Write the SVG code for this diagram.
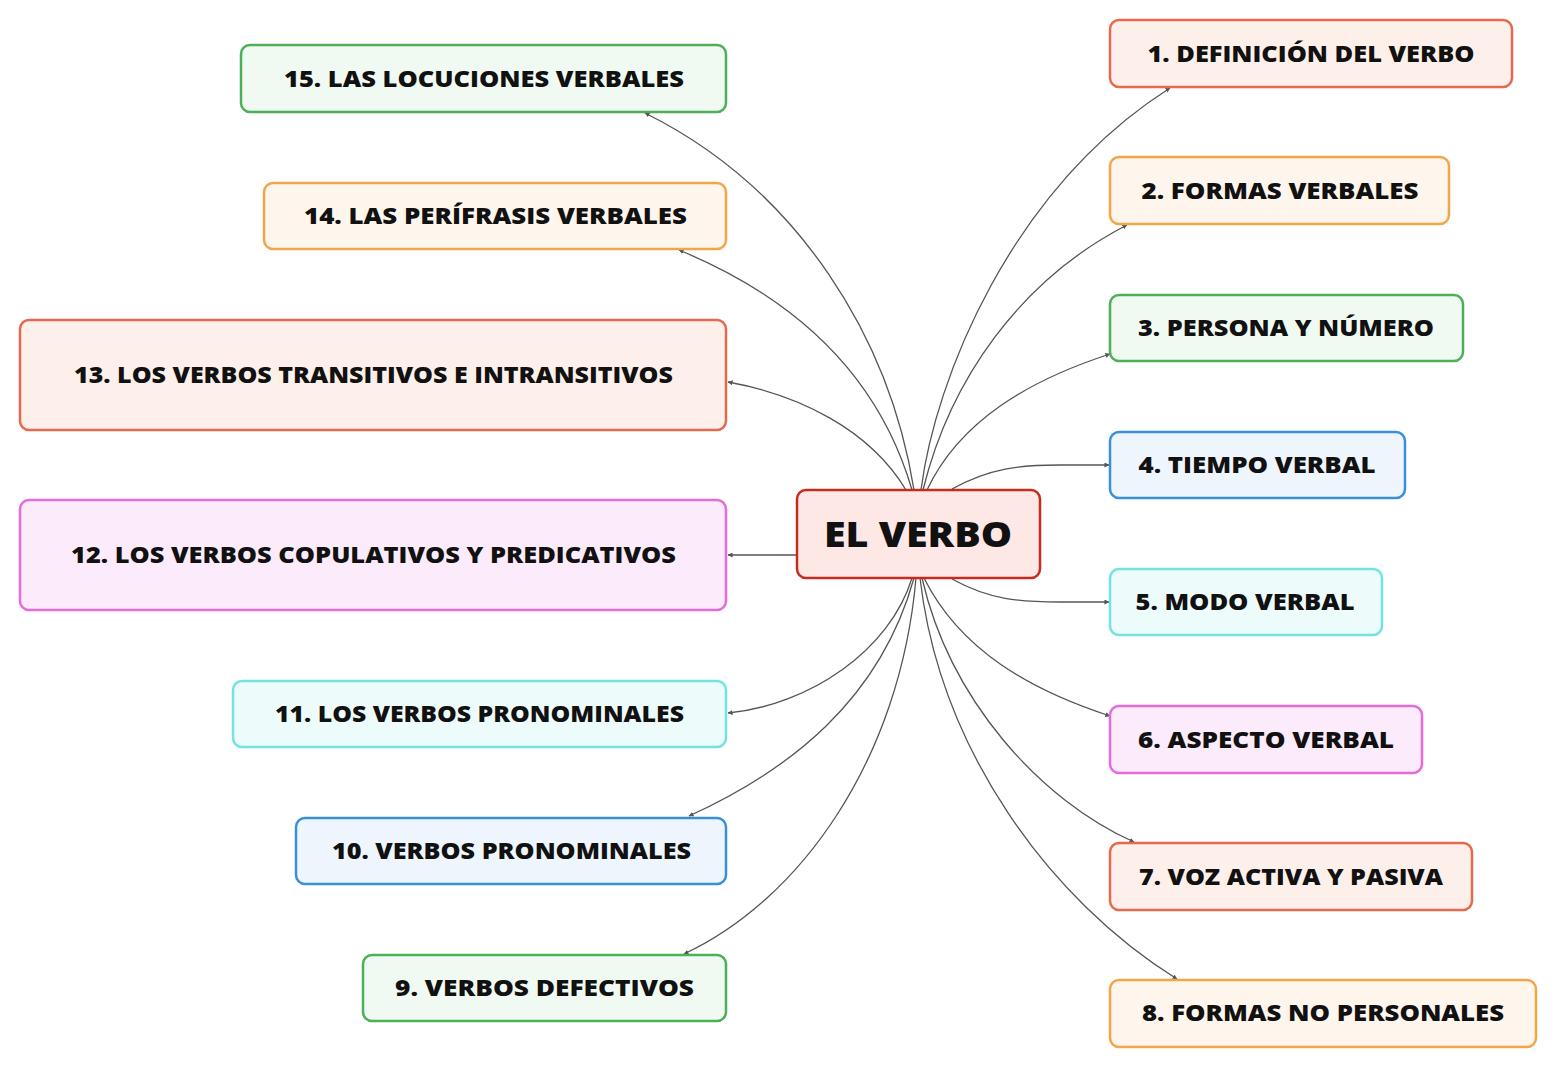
<svg xmlns="http://www.w3.org/2000/svg" width="1558" height="1068" viewBox="0 0 1558 1068">
<style>
.n rect{stroke-width:2.5}
.t{font-family:"Open Sans","Liberation Sans",sans-serif;font-weight:800;font-size:22px;fill:#111;text-anchor:middle}
.c1 rect{fill:#FDF0EA;stroke:#E8674F}
.c2 rect{fill:#FEF5EC;stroke:#F2A64A}
.c3 rect{fill:#F0F9F2;stroke:#4CAF5A}
.c4 rect{fill:#EEF5FD;stroke:#3A8FDB}
.c5 rect{fill:#EEFBFB;stroke:#72E2E2}
.c6 rect{fill:#FCEBFA;stroke:#E56CD8}
#connectors path{fill:none;stroke:#555;stroke-width:1.3;marker-end:url(#ah)}
</style>
<defs>
<marker id="ah" viewBox="0 0 6 6" refX="5.5" refY="3" markerWidth="5" markerHeight="5" orient="auto" markerUnits="userSpaceOnUse">
<path d="M0,0 L6,3 L0,6 z" fill="#555"/>
</marker>
</defs>
<rect width="1558" height="1068" fill="#fff"/>
<g id="connectors">
<path d="M914 490 C890 340 800 190 645 113"/>
<path d="M912 490 C880 380 800 300 679 250"/>
<path d="M906 490 C870 430 800 395 728 382"/>
<path d="M797 555 L728 555"/>
<path d="M912 578 C890 650 810 705 728 713"/>
<path d="M914 578 C880 700 790 770 689 816"/>
<path d="M916 578 C900 760 800 900 684 954"/>
<path d="M921 490 C935 380 1010 190 1170 88"/>
<path d="M923 490 C950 380 1020 280 1127 225"/>
<path d="M927 490 C960 420 1030 380 1110 354"/>
<path d="M952 489 C990 468 1020 465 1060 465 L1109 465"/>
<path d="M952 579 C990 600 1020 602 1060 602 L1109 602"/>
<path d="M924 578 C960 650 1030 690 1110 716"/>
<path d="M922 578 C950 700 1040 800 1134 842"/>
<path d="M920 578 C940 750 1050 900 1177 979"/>
</g>
<g id="center" class="n">
<rect x="797" y="490" width="243" height="88" rx="9" fill="#FDE8E6" stroke="#C62A20" stroke-width="2.5"/>
<text x="918" y="547" style="font-family:'Open Sans','Liberation Sans',sans-serif;font-weight:800;font-size:36px;fill:#111;text-anchor:middle" textLength="188" lengthAdjust="spacingAndGlyphs">EL VERBO</text>
</g>
<g id="n1" class="n c1"><rect x="1110" y="20" width="402" height="67" rx="9"/><text class="t" x="1311" y="62" textLength="327" lengthAdjust="spacingAndGlyphs">1. DEFINICIÓN DEL VERBO</text></g>
<g id="n2" class="n c2"><rect x="1110" y="157" width="339" height="67" rx="9"/><text class="t" x="1280" y="199" textLength="277" lengthAdjust="spacingAndGlyphs">2. FORMAS VERBALES</text></g>
<g id="n3" class="n c3"><rect x="1110" y="295" width="353" height="66" rx="9"/><text class="t" x="1286" y="336" textLength="296" lengthAdjust="spacingAndGlyphs">3. PERSONA Y NÚMERO</text></g>
<g id="n4" class="n c4"><rect x="1110" y="432" width="295" height="66" rx="9"/><text class="t" x="1257" y="473" textLength="237" lengthAdjust="spacingAndGlyphs">4. TIEMPO VERBAL</text></g>
<g id="n5" class="n c5"><rect x="1110" y="569" width="272" height="66" rx="9"/><text class="t" x="1245" y="610" textLength="219" lengthAdjust="spacingAndGlyphs">5. MODO VERBAL</text></g>
<g id="n6" class="n c6"><rect x="1110" y="706" width="312" height="67" rx="9"/><text class="t" x="1266" y="748" textLength="256" lengthAdjust="spacingAndGlyphs">6. ASPECTO VERBAL</text></g>
<g id="n7" class="n c1"><rect x="1110" y="843" width="362" height="67" rx="9"/><text class="t" x="1291" y="885" textLength="304" lengthAdjust="spacingAndGlyphs">7. VOZ ACTIVA Y PASIVA</text></g>
<g id="n8" class="n c2"><rect x="1110" y="980" width="426" height="67" rx="9"/><text class="t" x="1323" y="1021" textLength="362" lengthAdjust="spacingAndGlyphs">8. FORMAS NO PERSONALES</text></g>
<g id="n9" class="n c3"><rect x="363" y="955" width="363" height="66" rx="9"/><text class="t" x="544.5" y="996" textLength="299" lengthAdjust="spacingAndGlyphs">9. VERBOS DEFECTIVOS</text></g>
<g id="n10" class="n c4"><rect x="296" y="818" width="430" height="66" rx="9"/><text class="t" x="511.5" y="859" textLength="359" lengthAdjust="spacingAndGlyphs">10. VERBOS PRONOMINALES</text></g>
<g id="n11" class="n c5"><rect x="233" y="681" width="493" height="66" rx="9"/><text class="t" x="479.5" y="722" textLength="409" lengthAdjust="spacingAndGlyphs">11. LOS VERBOS PRONOMINALES</text></g>
<g id="n12" class="n c6"><rect x="20" y="500" width="706" height="110" rx="9"/><text class="t" x="373.5" y="563" textLength="605" lengthAdjust="spacingAndGlyphs">12. LOS VERBOS COPULATIVOS Y PREDICATIVOS</text></g>
<g id="n13" class="n c1"><rect x="20" y="320" width="706" height="110" rx="9"/><text class="t" x="373.5" y="383" textLength="599" lengthAdjust="spacingAndGlyphs">13. LOS VERBOS TRANSITIVOS E INTRANSITIVOS</text></g>
<g id="n14" class="n c2"><rect x="264" y="183" width="462" height="66" rx="9"/><text class="t" x="495.5" y="224" textLength="383" lengthAdjust="spacingAndGlyphs">14. LAS PERÍFRASIS VERBALES</text></g>
<g id="n15" class="n c3"><rect x="241" y="45" width="485" height="67" rx="9"/><text class="t" x="484" y="87" textLength="400" lengthAdjust="spacingAndGlyphs">15. LAS LOCUCIONES VERBALES</text></g>
</svg>
